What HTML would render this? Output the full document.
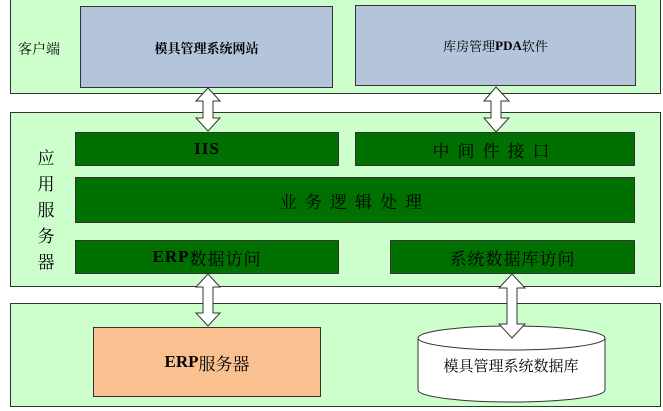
<!DOCTYPE html>
<html><head><meta charset="utf-8"><style>
body{margin:0;width:663px;height:411px;background:#fff;overflow:hidden;position:relative;font-family:"Liberation Serif","Noto Serif CJK SC",serif}
.p{position:absolute;background:#ccffcc;border:1px solid #333;box-sizing:border-box}
.b{position:absolute;box-sizing:border-box;border:1px solid #333;display:flex;align-items:center;justify-content:center;color:#000}
.g{background:#007000;font-size:17px;letter-spacing:1px}
.c{background:#b3c4db;font-size:13px}
</style></head><body>
<div class="p" style="left:10px;top:-2px;width:651px;height:96px"></div>
<div class="p" style="left:10px;top:112px;width:651px;height:175px"></div>
<div class="p" style="left:10px;top:303px;width:651px;height:104px"></div>
<div style="position:absolute;left:18px;top:39px;font-size:14px">客户端</div>
<div style="position:absolute;left:34px;top:146px;width:24px;font-size:17px;line-height:26px;text-align:center">应<br>用<br>服<br>务<br>器</div>
<div class="b c" style="left:80px;top:6px;width:253px;height:82px;font-weight:bold">模具管理系统网站</div>
<div class="b c" style="left:355px;top:5px;width:281px;height:81px">库房管理<b>PDA</b>软件</div>
<div class="b g" style="left:75px;top:132px;width:264px;height:34px;font-weight:bold">IIS</div>
<div class="b g" style="left:355px;top:132px;width:280px;height:34px;letter-spacing:8px">中间件接口</div>
<div class="b g" style="left:75px;top:177px;width:560px;height:46px;letter-spacing:8px">业务逻辑处理</div>
<div class="b g" style="left:75px;top:240px;width:264px;height:34px"><b>ERP</b>数据访问</div>
<div class="b g" style="left:390px;top:240px;width:245px;height:34px">系统数据库访问</div>
<div class="b" style="left:93px;top:327px;width:228px;height:70px;background:#fac090;font-size:17px"><b>ERP</b>服务器</div>
<svg style="position:absolute;left:0;top:0" width="663" height="411">
<g fill="#fff" stroke="#333" stroke-width="1">
<path d="M418,338 L418,390 A93.5,12 0 0 0 605,390 L605,338"/>
<ellipse cx="511.5" cy="338" rx="93.5" ry="12"/>
<path d="M208,88 L220,101 L213,101 L213,118 L220,118 L208,131 L196,118 L203,118 L203,101 L196,101 Z"/>
<path d="M496,87 L509,101 L501,101 L501,118 L509,118 L496,132 L484,118 L491,118 L491,101 L484,101 Z"/>
<path d="M208,274 L220,287 L213,287 L213,313 L220,313 L208,326 L196,313 L203,313 L203,287 L196,287 Z"/>
<path d="M512,274 L525,288 L517,288 L517,324 L525,324 L512,338 L499,324 L507,324 L507,288 L499,288 Z"/>
</g>
<text x="511" y="371" font-size="15" text-anchor="middle" font-family="Noto Serif CJK SC,serif">模具管理系统数据库</text>
</svg>
</body></html>
